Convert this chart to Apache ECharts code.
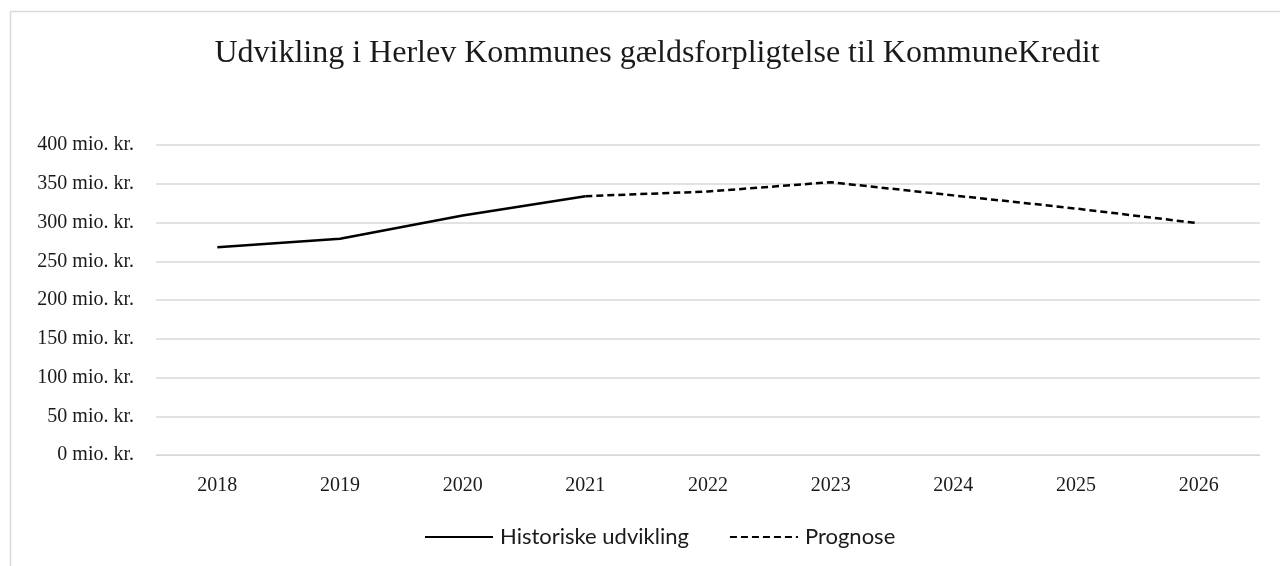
<!DOCTYPE html>
<html><head><meta charset="utf-8">
<script src="https://cdn.jsdelivr.net/npm/echarts@6/dist/echarts.min.js"></script>
<style>html,body{margin:0;padding:0;background:#fff;}#c{width:1280px;height:566px;}</style>
</head><body><div id="c"></div>
<script>
const categories = ['2018','2019','2020','2021','2022','2023','2024','2025','2026'];
const historisk = [268, 279, 309, 334, null, null, null, null, null];
const prognose = [null, null, null, 334, 340, 352, 335, 318, 299];
const yTicks = [0, 50, 100, 150, 200, 250, 300, 350, 400];
const titleText = 'Udvikling i Herlev Kommunes gældsforpligtelse til KommuneKredit';
const serif = '"Liberation Serif", "DejaVu Serif", serif';
const chart = echarts.init(document.getElementById('c'));
chart.setOption({
  animation: false,
  backgroundColor: '#fff',
  graphic: [{
    type: 'rect', left: 8, top: 9, shape: {width: 1300, height: 600},
    style: {fill: 'none', stroke: '#d9d9d9', lineWidth: 1.5}, silent: true, z: -1
  }],
  title: {
    text: titleText, left: 652, top: 33, textAlign: 'center',
    textStyle: {fontFamily: serif, fontSize: 32, fontWeight: 'normal', color: '#1a1a1a'}
  },
  grid: {left: 156, right: 20, top: 145, bottom: 111, containLabel: false},
  legend: {
    bottom: 13, left: 419, itemWidth: 68, itemHeight: 12, itemGap: 40,
    itemStyle: {opacity: 0},
    textStyle: {fontFamily: 'Lato, "Open Sans", sans-serif', fontSize: 22, color: '#1a1a1a', padding: [0,0,0,2]},
    data: ['Historiske udvikling', 'Prognose']
  },
  xAxis: {
    type: 'category', data: categories, boundaryGap: true,
    axisLine: {show: true, lineStyle: {color: '#d9d9d9', width: 1}},
    axisTick: {show: false},
    axisLabel: {fontFamily: serif, fontSize: 20, color: '#1a1a1a', margin: 21}
  },
  yAxis: {
    type: 'value', min: yTicks[0], max: yTicks[yTicks.length-1], interval: 50,
    axisLine: {show: false}, axisTick: {show: false},
    splitLine: {lineStyle: {color: '#d9d9d9', width: 1.5}},
    axisLabel: {fontFamily: serif, fontSize: 20, color: '#1a1a1a', margin: 22,
      formatter: v => v + ' mio. kr.'}
  },
  series: [
    {name: 'Historiske udvikling', type: 'line', data: historisk, symbol: 'none',
     lineStyle: {color: '#000', width: 2.5, type: 'solid'}, itemStyle: {color: '#000'}},
    {name: 'Prognose', type: 'line', data: prognose, symbol: 'none',
     lineStyle: {color: '#000', width: 2.5, type: [7, 4]}, itemStyle: {color: '#000'}}
  ]
});
</script></body></html>
